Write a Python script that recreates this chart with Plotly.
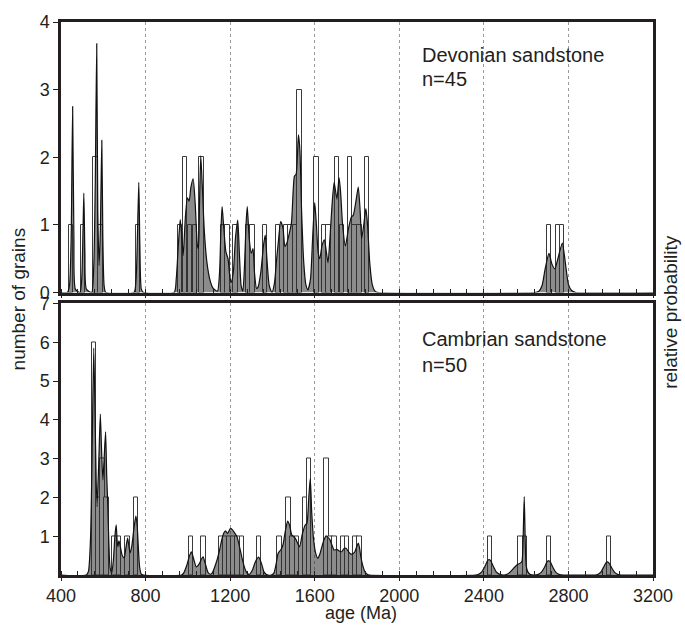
import plotly.graph_objects as go

# ---------------- data ----------------
# Devonian sandstone (n=45): histogram bins (centre age, Ma) and grain counts
dev_bin_age = [446, 504, 563, 587, 764, 963, 986, 1010, 1033, 1064, 1166, 1187, 1226,
               1285, 1305, 1366, 1427, 1466, 1486, 1506, 1527, 1609, 1647, 1666, 1706,
               1729, 1766, 1789, 1812, 1848, 2708, 2750, 2770]
dev_bin_count = [1, 1, 2, 1, 1, 1, 2, 1, 1, 2, 1, 1, 1,
                 1, 1, 1, 1, 1, 1, 1, 3, 2, 1, 1, 2,
                 1, 2, 1, 1, 2, 1, 1, 1]
# Devonian relative probability curve (age, value on grain-count scale)
dev_curve_age = [400, 430, 440, 448, 455, 461, 468, 490, 498, 504, 508, 513, 520, 545, 555, 562,
                 569, 574, 580, 586, 593, 598, 604, 612, 745, 755, 762, 768, 773, 780, 790, 935,
                 945, 955, 964, 971, 978, 988, 998, 1006, 1014, 1025, 1035, 1045, 1050, 1055, 1061,
                 1068, 1078, 1090, 1105, 1120, 1140, 1150, 1156, 1162, 1170, 1180, 1190, 1198, 1205,
                 1215, 1225, 1236, 1244, 1252, 1260, 1268, 1275, 1281, 1290, 1300, 1308, 1315, 1325,
                 1332, 1345, 1358, 1366, 1374, 1385, 1398, 1410, 1420, 1428, 1439, 1450, 1459, 1467,
                 1478, 1490, 1504, 1512, 1523, 1530, 1538, 1548, 1558, 1568, 1580, 1590, 1600, 1608,
                 1616, 1624, 1635, 1646, 1655, 1663, 1672, 1682, 1692, 1705, 1715, 1722, 1732, 1745,
                 1760, 1774, 1782, 1795, 1806, 1815, 1822, 1832, 1842, 1850, 1860, 1872, 1885, 1900,
                 2640, 2660, 2675, 2690, 2708, 2722, 2736, 2750, 2771, 2785, 2800, 2815, 2835, 3200]
dev_curve_val = [0, 0, 0.1, 0.8, 2.75, 0.8, 0.05, 0, 0.2, 0.9, 1.47, 0.6, 0.05, 0, 0.4, 1.6,
                 3.68, 1.2, 0.4, 0.9, 2.25, 0.8, 0.1, 0, 0, 0.2, 0.9, 1.63, 0.7, 0.05, 0, 0,
                 0.2, 0.7, 1.08, 0.85, 0.55, 1.1, 1.4, 1.35, 1.55, 1.68, 1.3, 0.7, 0.65, 1.3, 2.02,
                 1.6, 0.9, 0.45, 0.18, 0.06, 0.02, 0.3, 0.9, 1.27, 0.95, 0.6, 0.5, 0.25, 0.15,
                 0.3, 0.8, 1.07, 0.55, 0.1, 0.02, 0.4, 1.0, 1.27, 0.8, 0.58, 0.65, 0.3, 0.06,
                 0.08, 0.3, 0.7, 0.85, 0.5, 0.1, 0, 0.15, 0.5, 0.75, 1.05, 0.95, 0.68, 0.72,
                 0.85, 1.03, 1.72, 1.75, 2.33, 2.1, 1.2, 0.45, 0.12, 0.04, 0.2, 0.8, 1.33, 1.0,
                 0.6, 0.5, 0.7, 0.78, 0.6, 0.44, 0.8, 1.3, 1.63, 1.38, 1.7, 1.5, 1.0, 0.69,
                 0.95, 1.12, 1.14, 1.35, 1.56, 1.2, 0.8, 1.0, 1.24, 1.0, 0.45, 0.12, 0.02, 0,
                 0, 0.02, 0.1, 0.35, 0.58, 0.42, 0.35, 0.5, 0.73, 0.45, 0.12, 0.03, 0, 0]

# Cambrian sandstone (n=50)
cam_bin_age = [556, 576, 596, 616, 654, 675, 714, 754,
               1016, 1074, 1157, 1176, 1196, 1215, 1235, 1255, 1336,
               1433, 1475, 1495, 1515, 1553, 1574, 1655, 1675, 1694, 1733, 1753, 1792, 1811,
               2430, 2574, 2594, 2709, 2991]
cam_bin_count = [6, 2, 3, 2, 1, 1, 1, 2,
                 1, 1, 1, 1, 1, 1, 1, 1, 1,
                 1, 2, 1, 1, 2, 3, 3, 1, 1, 1, 1, 1, 1,
                 1, 1, 1, 1, 1]
cam_curve_age = [400, 520, 530, 540, 548, 555, 562, 570, 578, 586, 592, 598, 604, 611, 616, 620,
                 626, 632, 640, 648, 655, 661, 666, 669, 674, 680, 690, 699, 707, 715, 721, 727,
                 735, 745, 754, 760, 766, 772, 780, 790, 970, 980, 995, 1008, 1017, 1028, 1040,
                 1055, 1065, 1072, 1082, 1095, 1105, 1115, 1130, 1147, 1160, 1170, 1178, 1188,
                 1201, 1210, 1217, 1232, 1248, 1260, 1272, 1283, 1292, 1305, 1320, 1335, 1348,
                 1360, 1372, 1395, 1407, 1418, 1427, 1440, 1450, 1460, 1472, 1480, 1492, 1508,
                 1528, 1542, 1555, 1563, 1572, 1579, 1586, 1595, 1605, 1615, 1625, 1634, 1645,
                 1654, 1663, 1673, 1683, 1692, 1704, 1716, 1728, 1738, 1748, 1760, 1771, 1780,
                 1790, 1800, 1806, 1812, 1818, 1827, 1837, 1848, 1860, 2360, 2375, 2390, 2405,
                 2418, 2424, 2432, 2445, 2460, 2478, 2495, 2510, 2525, 2540, 2556, 2570, 2580,
                 2585, 2591, 2596, 2600, 2608, 2620, 2640, 2655, 2670, 2685, 2698, 2706, 2715,
                 2728, 2742, 2758, 2775, 2925, 2940, 2955, 2968, 2978, 2985, 2993, 3005, 3020,
                 3035, 3050, 3200]
cam_curve_val = [0, 0, 0.1, 1.0, 3.5, 5.85, 3.8, 1.76, 2.8, 4.15, 3.2, 2.45, 3.0, 3.69, 2.6, 2.0,
                 0.9, 0.2, 0.05, 0.4, 1.0, 1.29, 0.85, 0.73, 0.88, 0.75, 0.5, 0.44, 0.7, 0.95, 0.75, 0.57,
                 0.75, 1.2, 1.52, 1.3, 0.7, 0.2, 0.02, 0, 0, 0.05, 0.25, 0.5, 0.6, 0.4, 0.21,
                 0.3, 0.42, 0.47, 0.3, 0.07, 0.02, 0.05, 0.25, 0.57, 0.9, 1.08, 1.14, 1.07,
                 1.2, 1.17, 1.12, 0.99, 0.64, 0.35, 0.13, 0.03, 0.02, 0.12, 0.35, 0.46, 0.3,
                 0.08, 0.01, 0, 0.05, 0.3, 0.56, 0.65, 0.78, 1.1, 1.39, 1.3, 1.03, 0.95,
                 0.73, 1.07, 1.29, 1.33, 2.0, 2.49, 1.6, 0.9, 0.55, 0.43, 0.55, 0.73, 0.92,
                 1.01, 0.97, 0.9, 0.75, 0.64, 0.66, 0.62, 0.6, 0.68, 0.69, 0.6, 0.54, 0.55,
                 0.6, 0.75, 0.82, 0.7, 0.47, 0.25, 0.09, 0.02, 0, 0, 0.02, 0.08, 0.22,
                 0.37, 0.4, 0.37, 0.22, 0.07, 0.01, 0, 0.02, 0.08, 0.17, 0.26, 0.3, 0.35,
                 0.8, 2.02, 0.8, 0.25, 0.08, 0.01, 0, 0.01, 0.06, 0.18, 0.33, 0.37, 0.33,
                 0.18, 0.06, 0.01, 0, 0, 0.02, 0.09, 0.22, 0.32, 0.34, 0.3, 0.18, 0.06,
                 0.01, 0, 0]

x_ticks = [400, 800, 1200, 1600, 2000, 2400, 2800, 3200]
top_y_ticks = [0, 1, 2, 3, 4]
bot_y_ticks = [1, 2, 3, 4, 5, 6, 7]

# ---------------- figure ----------------
INK = "#231f20"
FONT = "Liberation Sans, Arial, sans-serif"
BAR_W = 21
FILL = "rgba(45,45,45,0.55)"

fig = go.Figure()

fig.add_trace(go.Bar(x=dev_bin_age, y=dev_bin_count, width=BAR_W, xaxis="x", yaxis="y",
                     marker=dict(color="white", line=dict(color="#3a3a3a", width=1)),
                     showlegend=False))
fig.add_trace(go.Scatter(x=dev_curve_age, y=dev_curve_val, xaxis="x", yaxis="y", mode="lines",
                         line=dict(color="#111", width=1.2, shape="spline", smoothing=0.6),
                         fill="tozeroy", fillcolor=FILL, showlegend=False))
fig.add_trace(go.Bar(x=cam_bin_age, y=cam_bin_count, width=BAR_W, xaxis="x2", yaxis="y2",
                     marker=dict(color="white", line=dict(color="#3a3a3a", width=1)),
                     showlegend=False))
fig.add_trace(go.Scatter(x=cam_curve_age, y=cam_curve_val, xaxis="x2", yaxis="y2", mode="lines",
                         line=dict(color="#111", width=1.2, shape="spline", smoothing=0.6),
                         fill="tozeroy", fillcolor=FILL, showlegend=False))

axis_common = dict(range=[400, 3200], tickvals=x_ticks, showline=True, mirror=True,
                   linewidth=2.5, linecolor=INK, showgrid=True, gridcolor="#9a9a9a",
                   griddash="dot", gridwidth=1, zeroline=False, ticks="outside", ticklen=3,
                   tickcolor=INK,
                   minor=dict(dtick=80, tick0=400, ticks="inside", ticklen=4, tickcolor=INK,
                              showgrid=False),
                   tickfont=dict(size=18, color=INK, family=FONT))
yax_common = dict(showline=True, mirror=True, linewidth=2.5, linecolor=INK, showgrid=False,
                  zeroline=False, ticks="outside", ticklen=5, tickcolor=INK,
                  tickfont=dict(size=18, color=INK, family=FONT))

H0 = 0.5108
fig.update_layout(
    width=685, height=626,
    margin=dict(l=61, r=28, t=21, b=51),
    paper_bgcolor="white", plot_bgcolor="white",
    barmode="overlay", bargap=0,
    font=dict(family=FONT, color=INK),
    xaxis=dict(axis_common, anchor="y", showticklabels=False),
    yaxis=dict(yax_common, domain=[H0, 1], range=[0, 4], tickvals=top_y_ticks),
    xaxis2=dict(axis_common, anchor="y2", matches="x"),
    yaxis2=dict(yax_common, domain=[0, 0.491], range=[0, 7], tickvals=bot_y_ticks),
)

ann_font = dict(size=20, color=INK, family=FONT)
fig.add_annotation(x=2096, y=0.9404, xref="x", yref="paper", text="Devonian sandstone",
                   showarrow=False, xanchor="left", yanchor="middle", font=ann_font)
fig.add_annotation(x=2096, y=0.897, xref="x", yref="paper", text="n=45",
                   showarrow=False, xanchor="left", yanchor="middle", font=ann_font)
fig.add_annotation(x=2096, y=0.426, xref="x", yref="paper", text="Cambrian sandstone",
                   showarrow=False, xanchor="left", yanchor="middle", font=ann_font)
fig.add_annotation(x=2096, y=0.379, xref="x", yref="paper", text="n=50",
                   showarrow=False, xanchor="left", yanchor="middle", font=ann_font)

title_font = dict(size=19, color=INK, family=FONT)
fig.add_annotation(x=0.507, y=-0.0686, xref="paper", yref="paper", text="age (Ma)",
                   showarrow=False, xanchor="center", yanchor="middle",
                   font=dict(size=18, color=INK, family=FONT))
fig.add_annotation(x=-0.072, y=0.499, xref="paper", yref="paper", text="number of grains",
                   showarrow=False, xanchor="center", yanchor="middle", textangle=-90,
                   font=title_font)
fig.add_annotation(x=1.0302, y=0.4756, xref="paper", yref="paper", text="relative probability",
                   showarrow=False, xanchor="center", yanchor="middle", textangle=-90,
                   font=title_font)

fig.write_html("out.html", config={"displayModeBar": False},
               post_script="document.body.style.margin='0';document.body.style.overflow='hidden';")
